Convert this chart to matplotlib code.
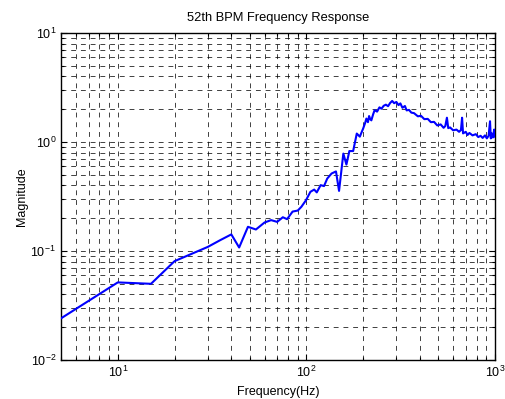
import matplotlib
matplotlib.use("Agg")
import matplotlib.pyplot as plt
from matplotlib.ticker import LogLocator, NullFormatter

plt.rcParams['font.family'] = ['Liberation Sans', 'DejaVu Sans']

# frequency (Hz) and magnitude
freq = [5, 10, 15, 20, 30, 35, 40, 44, 49, 54, 60, 65, 70, 75, 79, 84.5, 90, 94, 99.5,
        105, 110, 113.5, 119, 124, 129, 136, 143.5, 149, 157, 163, 169, 177, 185, 192,
        200, 205, 208, 212, 215, 218, 221, 226, 230, 237, 244, 250, 257, 264, 271, 278,
        285, 292, 300, 308, 315, 323, 333, 340, 350, 360, 372, 390, 405, 422, 440, 457,
        475, 494, 515, 534, 545, 556, 565, 578, 600, 625, 645, 660, 669, 677, 700, 715,
        732, 760, 791, 815, 839, 860, 885, 905, 925, 941, 950, 960, 975, 990, 1000]
mag = [0.0241, 0.0515, 0.050, 0.0807, 0.109, 0.126, 0.142, 0.1077, 0.1667, 0.1575, 0.1826,
       0.192, 0.185, 0.204, 0.196, 0.230, 0.235, 0.254, 0.292,
       0.349, 0.366, 0.345, 0.402, 0.394, 0.462, 0.514, 0.537, 0.356, 0.783, 0.621, 0.826,
       0.826, 1.195, 1.12,
       1.33, 1.50, 1.64, 1.52, 1.73, 1.62, 1.58, 1.80, 1.96, 1.90, 2.08, 2.02, 2.15, 2.20,
       2.13, 2.28, 2.38, 2.27, 2.33, 2.18, 2.26, 2.06, 2.14, 1.95, 1.97, 1.86, 1.84,
       1.72, 1.74, 1.62, 1.63, 1.52, 1.53, 1.42, 1.45, 1.35, 1.40, 1.67, 1.34, 1.36,
       1.28, 1.30, 1.24, 1.29, 1.67, 1.20, 1.24, 1.16, 1.21, 1.15, 1.18, 1.11, 1.14,
       1.09, 1.15, 1.08, 1.14, 1.55, 1.08, 1.20, 1.10, 1.30, 1.12]

fig = plt.figure(figsize=(5.05, 3.99), dpi=100)
ax = fig.add_axes([61 / 505, 1 - 360 / 399, 434 / 505, 327 / 399])

ax.loglog(freq, mag, color='#0000ff', linewidth=1.5, zorder=3)

ax.set_xlim(5, 1000)
ax.set_ylim(0.01, 10)
ax.xaxis.set_major_locator(LogLocator(base=10))
ax.yaxis.set_major_locator(LogLocator(base=10))
ax.xaxis.set_minor_locator(LogLocator(base=10, subs=range(2, 10)))
ax.yaxis.set_minor_locator(LogLocator(base=10, subs=range(2, 10)))
ax.xaxis.set_minor_formatter(NullFormatter())
ax.yaxis.set_minor_formatter(NullFormatter())

ax.grid(True, which='both', color='black', linestyle=(0, (5, 5)), linewidth=0.7, alpha=0.75)
ax.tick_params(which='both', direction='in', top=True, right=True, labelsize=9, width=0.8)
ax.tick_params(which='major', length=4)
ax.tick_params(which='minor', length=2)
for s in ax.spines.values():
    s.set_linewidth(1.0)

ax.set_title('52th BPM Frequency Response', fontsize=9.3, pad=9)
ax.set_xlabel('Frequency(Hz)', fontsize=9, labelpad=4)
ax.set_ylabel('Magnitude', fontsize=9, labelpad=2)

fig.savefig('out.png', dpi=100)
